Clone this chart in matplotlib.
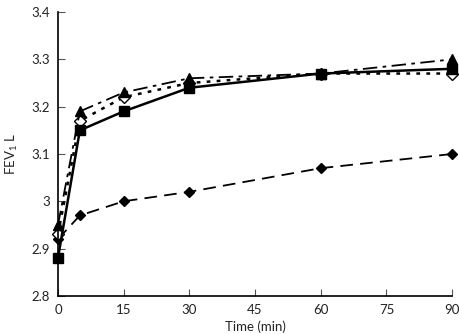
import matplotlib
matplotlib.use("Agg")
import matplotlib.pyplot as plt

plt.rcParams['font.family'] = ['Lato', 'DejaVu Sans']

time = [0, 5, 15, 30, 60, 90]
sq = [2.88, 3.15, 3.19, 3.24, 3.27, 3.28]
tri = [2.95, 3.19, 3.23, 3.26, 3.27, 3.30]
odia = [2.93, 3.17, 3.22, 3.25, 3.27, 3.27]
fdia = [2.92, 2.97, 3.00, 3.02, 3.07, 3.10]
xticks = [0, 15, 30, 45, 60, 75, 90]
yticks = [2.8, 2.9, 3.0, 3.1, 3.2, 3.3, 3.4]
ylabels = ['2.8', '2.9', '3', '3.1', '3.2', '3.3', '3.4']

fig = plt.figure(figsize=(4.6, 3.34), dpi=100)
ax = fig.add_axes([0.126, 0.114, 0.857, 0.85])

ax.plot(time, fdia, color='black', lw=1.3, ls=(0, (7, 4)), marker='D', ms=5.5, mfc='black', mec='black')
ax.plot(time, odia, color='black', lw=1.8, ls=(0, (1.5, 2.5)), marker='D', ms=6, mfc='white', mec='black', mew=1)
ax.plot(time, tri, color='black', lw=1.3, ls=(0, (8, 3, 2, 3)), marker='^', ms=7, mfc='black', mec='black')
ax.plot(time, sq, color='black', lw=1.8, ls='-', marker='s', ms=7, mfc='black', mec='black')

ax.set_xlim(0, 90)
ax.set_ylim(2.8, 3.4)
ax.set_xticks(xticks)
ax.set_yticks(yticks)
ax.set_yticklabels(ylabels)
for s in ['top', 'right']:
    ax.spines[s].set_visible(False)
ax.spines['left'].set_linewidth(1.2)
ax.spines['bottom'].set_linewidth(1.2)
ax.tick_params(direction='in', length=5, width=0.8, color='#555555', labelsize=9.5, labelcolor='#222222')
ax.tick_params(axis='x', pad=6)
ax.tick_params(axis='y', pad=6)
ax.set_xlabel('Time (min)', fontsize=9.5, color='#222222', labelpad=3)
ax.set_ylabel('FEV$_{\\mathregular{1}}$ L', fontsize=9.5, color='#222222', labelpad=8)
for l in ax.lines:
    l.set_clip_on(False)

fig.savefig('out.png', dpi=100)
